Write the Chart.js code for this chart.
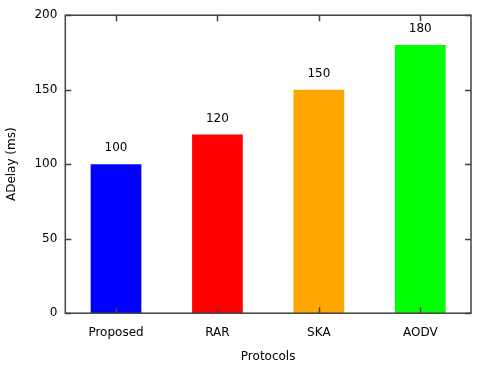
<!DOCTYPE html>
<html>
<head>
<meta charset="utf-8">
<script src="https://cdn.jsdelivr.net/npm/chart.js@4"></script>
<style>
  html, body { margin: 0; padding: 0; background: #fff; }
  #wrap { width: 480px; height: 366px; }
</style>
</head>
<body>
<div id="wrap"><canvas id="delayChart"></canvas></div>
<script>
// Chart data
const protocols = ['Proposed', 'RAR', 'SKA', 'AODV'];
const delayValues = [100, 120, 150, 180];
const barColors = ['#0000ff', '#ff0000', '#ffa500', '#00ff00'];
const yTicks = [0, 50, 100, 150, 200];

const FONT = 'DejaVu Sans';

// Draws the box around the plot area with inward tick marks (gnuplot style)
const frameTicks = {
    id: 'frameTicks',
    afterDatasetsDraw(chart) {
        const { ctx, chartArea: a, scales } = chart;
        const len = 6;
        ctx.save();
        ctx.strokeStyle = '#404040';
        ctx.lineWidth = 1.5;
        ctx.beginPath();
        yTicks.forEach((v) => {
            const y = Math.round(scales.y.getPixelForValue(v)) + 0.5;
            ctx.moveTo(a.left, y); ctx.lineTo(a.left + len, y);
            ctx.moveTo(a.right, y); ctx.lineTo(a.right - len, y);
        });
        protocols.forEach((p, i) => {
            const x = Math.round(scales.x.getPixelForValue(i)) + 0.5;
            ctx.moveTo(x, a.top); ctx.lineTo(x, a.top + len);
            ctx.moveTo(x, a.bottom); ctx.lineTo(x, a.bottom - len);
        });
        ctx.stroke();
        ctx.strokeRect(a.left, a.top, a.right - a.left, a.bottom - a.top);
        ctx.restore();
    }
};

// Value labels above each bar
const valueLabels = {
    id: 'valueLabels',
    afterDatasetsDraw(chart) {
        const { ctx } = chart;
        const meta = chart.getDatasetMeta(0);
        ctx.save();
        ctx.font = '12px "' + FONT + '"';
        ctx.fillStyle = '#000';
        ctx.textAlign = 'center';
        ctx.textBaseline = 'middle';
        meta.data.forEach((bar, i) => {
            ctx.fillText(String(delayValues[i]), bar.x, bar.y - 16);
        });
        ctx.restore();
    }
};

window.onload = () => {
    const ctx = document.getElementById('delayChart').getContext('2d');
    new Chart(ctx, {
        type: 'bar',
        data: {
            labels: protocols,
            datasets: [{
                label: 'ADelay',
                data: delayValues,
                backgroundColor: barColors,
                borderWidth: 0,
                barPercentage: 0.5,
                categoryPercentage: 1.0
            }]
        },
        options: {
            responsive: true,
            maintainAspectRatio: false,
            animation: false,
            layout: { padding: { left: 5, right: 9, top: 15, bottom: 0 } },
            plugins: {
                legend: { display: false },
                tooltip: { enabled: false }
            },
            scales: {
                x: {
                    grid: { display: false, drawTicks: false },
                    border: { display: false },
                    ticks: {
                        color: '#000',
                        padding: 12,
                        font: { family: FONT, size: 12 }
                    },
                    title: {
                        display: true,
                        text: 'Protocols',
                        color: '#000',
                        padding: { top: -2, bottom: 2 },
                        font: { family: FONT, size: 12 }
                    }
                },
                y: {
                    min: 0,
                    max: 200,
                    grid: { display: false, drawTicks: false },
                    border: { display: false },
                    ticks: {
                        stepSize: 50,
                        color: '#000',
                        padding: 8,
                        font: { family: FONT, size: 12 }
                    },
                    title: {
                        display: true,
                        text: 'ADelay (ms)',
                        color: '#000',
                        padding: { top: 0, bottom: 7 },
                        font: { family: FONT, size: 12 }
                    }
                }
            }
        },
        plugins: [frameTicks, valueLabels]
    });
};
</script>
</body>
</html>
